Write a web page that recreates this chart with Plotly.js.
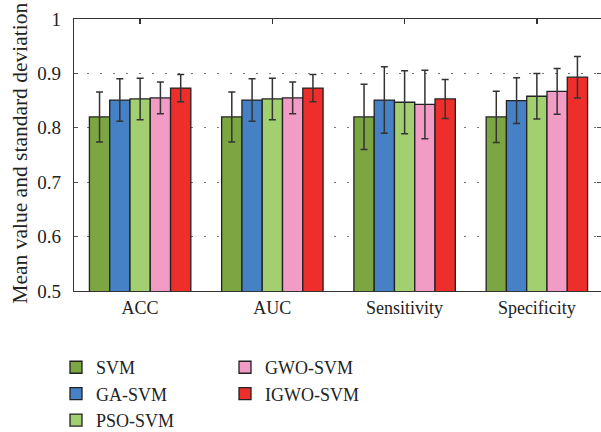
<!DOCTYPE html>
<html>
<head>
<meta charset="utf-8">
<script src="https://cdn.plot.ly/plotly-3.0.1.min.js"></script>
<style>html,body{margin:0;padding:0;background:#fff;}#chart{width:601px;height:432px;}</style>
</head>
<body>
<div id="chart"></div>
<script>
var categories = ["ACC", "AUC", "Sensitivity", "Specificity"];
var seriesNames = ["SVM", "GA-SVM", "PSO-SVM", "GWO-SVM", "IGWO-SVM"];
var yTitle = "Mean value and standard deviation";
var svmMean   = [0.820, 0.820, 0.820, 0.820];
var svmStd    = [0.046, 0.046, 0.060, 0.047];
var gaMean    = [0.851, 0.851, 0.851, 0.850];
var gaStd     = [0.039, 0.039, 0.061, 0.042];
var psoMean   = [0.853, 0.853, 0.847, 0.858];
var psoStd    = [0.038, 0.038, 0.058, 0.042];
var gwoMean   = [0.855, 0.855, 0.843, 0.867];
var gwoStd    = [0.029, 0.029, 0.063, 0.042];
var igwoMean  = [0.873, 0.873, 0.853, 0.893];
var igwoStd   = [0.025, 0.025, 0.036, 0.038];
var colors = ["#7ba641", "#4581c4", "#a2cf70", "#f29bc4", "#ed2e2a"];

var means = [svmMean, gaMean, psoMean, gwoMean, igwoMean];
var stds = [svmStd, gaStd, psoStd, gwoStd, igwoStd];
var traces = seriesNames.map(function(n, i){
  return {
    type: "bar", name: n, x: categories, y: means[i],
    base: 0,
    legend: i < 3 ? "legend" : "legend2",
    marker: {color: colors[i], line: {color: "#222", width: 1.3}},
    error_y: {type: "data", array: stds[i], visible: true, color: "#333", thickness: 1.5, width: 3.5}
  };
});

var serif = "Liberation Serif, Times New Roman, serif";
var font = {family: serif, size: 18, color: "#222"};
var yTickFont = {family: serif, size: 19, color: "#222"};
var titleFont = {family: serif, size: 21.5, color: "#222"};
var layout = {
  width: 601, height: 432,
  margin: {l: 74, r: 0, t: 19, b: 140.5, autoexpand: false},
  paper_bgcolor: "#fff", plot_bgcolor: "#fff",
  font: font,
  barmode: "group", bargap: 0.233, bargroupgap: 0,
  showlegend: true,
  xaxis: {
    range: [-0.5, 3.485], showline: true, mirror: "ticks", linecolor: "#333", linewidth: 1.3,
    ticks: "inside", ticklen: 5, tickcolor: "#333", tickwidth: 1.3, showgrid: false,
    layer: "below traces", tickfont: font, zeroline: false
  },
  yaxis: {
    range: [0.5, 1], dtick: 0.1, tick0: 0.5, showline: true, mirror: "ticks", linecolor: "#333", linewidth: 1.3,
    ticks: "inside", ticklen: 4, tickcolor: "#555", tickwidth: 1,
    showgrid: true, gridcolor: "#777", griddash: "2px,11px", gridwidth: 1,
    layer: "below traces", zeroline: false, tickfont: yTickFont, ticklabelstandoff: 8
  },
  annotations: [{
    text: yTitle, xref: "paper", yref: "paper", x: -54 / 527, y: 0.505,
    xanchor: "center", yanchor: "middle", textangle: -90, showarrow: false, font: titleFont
  }],
  legend: {x: 56 / 601, xref: "container", xanchor: "left", y: 0.192, yref: "container", yanchor: "top", orientation: "v", font: font, tracegroupgap: 0, bgcolor: "rgba(0,0,0,0)"},
  legend2: {x: 225 / 601, xref: "container", xanchor: "left", y: 0.192, yref: "container", yanchor: "top", orientation: "v", font: font, tracegroupgap: 0, bgcolor: "rgba(0,0,0,0)"}
};
Plotly.newPlot("chart", traces, layout, {displayModeBar: false, staticPlot: true});
</script>
</body>
</html>
